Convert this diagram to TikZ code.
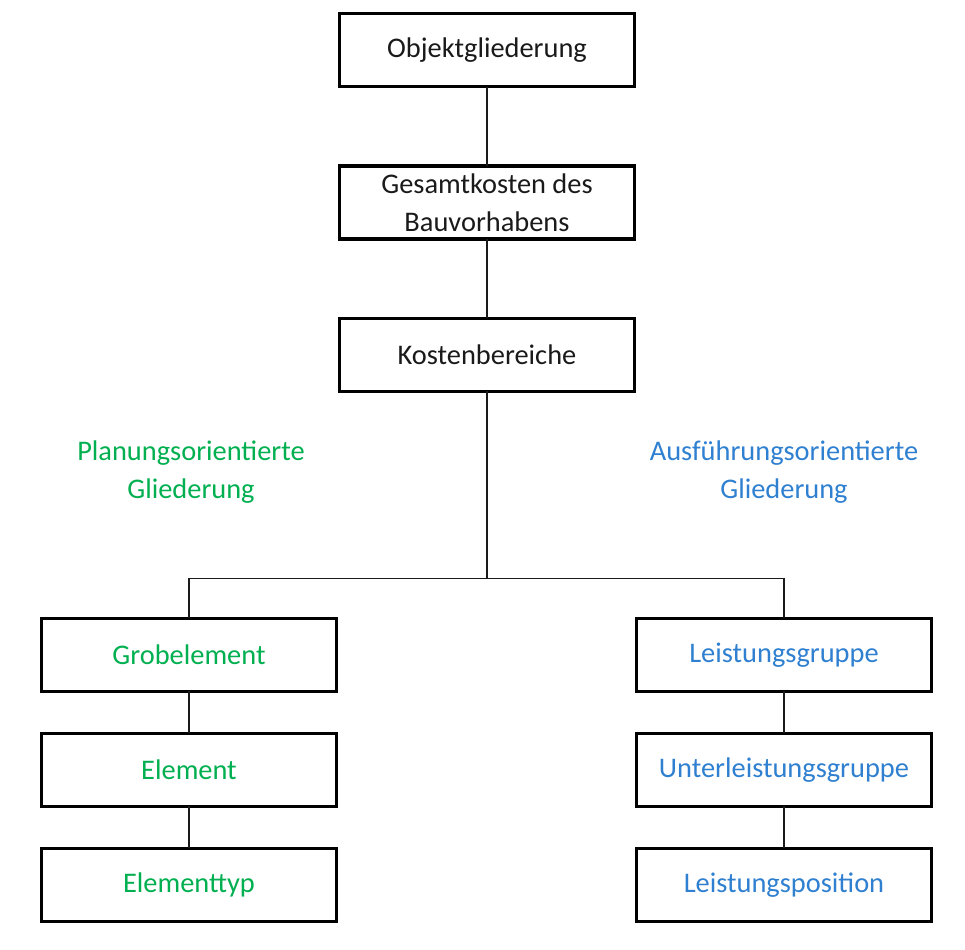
\documentclass[tikz,border=0pt]{standalone}
\usepackage{fontspec}
\setmainfont{Carlito}
\usepackage{xcolor}
\usetikzlibrary{positioning}
\definecolor{plan}{HTML}{00B050}
\definecolor{ausf}{HTML}{2F80D0}
\definecolor{ink}{HTML}{1A1A1A}
\tikzset{
  box/.style={draw=black,line width=2.4pt,outer sep=0pt,minimum width=221.25pt,minimum height=54.75pt,
    align=center,text=ink,font=\fontsize{21.3pt}{28.5pt}\selectfont,fill=white},
  conn/.style={draw=ink,line width=1pt},
  caption/.style={align=center,font=\fontsize{21.3pt}{28.5pt}\selectfont}
}

\begin{document}
\begin{tikzpicture}[x=0.75pt,y=-0.75pt,node distance=59.6pt]
 \useasboundingbox (0,0) rectangle (965,950);
 \node[box] (obj) at (487,50) {Objektgliederung};
 \node[box,below=of obj] (ges) {Gesamtkosten des\\Bauvorhabens};
 \node[box,below=of ges] (kb) {Kostenbereiche};
 % planning side
 \node[box,text=plan,below left=170.25pt and 2.25pt of kb.south west] (grob) {Grobelement};
 \node[box,text=plan,below=31.5pt of grob] (elem) {Element};
 \node[box,text=plan,below=31.5pt of elem] (typ) {Elementtyp};
 % execution side
 \node[box,text=ausf,below right=170.25pt and 1.5pt of kb.south east] (lg) {Leistungsgruppe};
 \node[box,text=ausf,below=31.5pt of lg] (ulg) {Unterleistungsgruppe};
 \node[box,text=ausf,below=31.5pt of ulg] (lp) {Leistungsposition};
 \node[caption,text=plan] (plantxt) at (191,472) {Planungsorientierte\\Gliederung};
 \node[caption,text=ausf] (ausftxt) at (784,472) {Ausführungsorientierte\\Gliederung};
 \coordinate[below=140.25pt of kb.south] (split);
 \begin{scope}[on background layer/.try]
 \draw[conn] (obj) -- (ges);
 \draw[conn] (ges) -- (kb);
 \draw[conn] (kb) -- (split);
 \draw[conn] (grob.north) |- (split) -| (lg.north);
 \draw[conn] (grob) -- (elem);
 \draw[conn] (elem) -- (typ);
 \draw[conn] (lg) -- (ulg);
 \draw[conn] (ulg) -- (lp);
 \end{scope}
\end{tikzpicture}
\end{document}
